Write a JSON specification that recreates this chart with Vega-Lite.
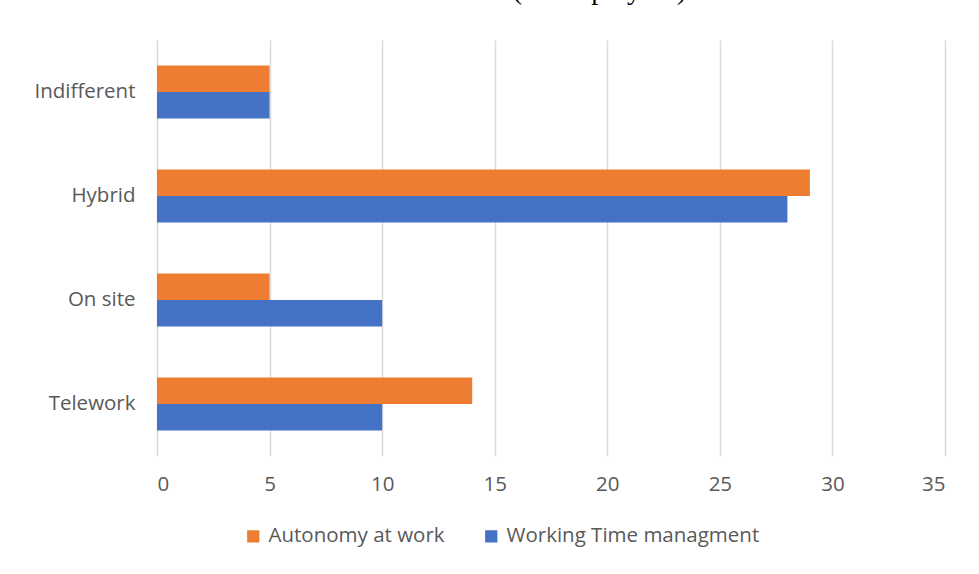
{
  "$schema": "https://vega.github.io/schema/vega-lite/v6.json",
  "width": 788,
  "height": 416,
  "autosize": {"type": "none"},
  "padding": {"left": 157, "top": 40, "right": 34, "bottom": 118},
  "background": "white",
  "title": {
    "text": "(29 employees).",
    "font": "Liberation Serif",
    "fontSize": 28,
    "fontWeight": "normal",
    "color": "#000000",
    "anchor": "middle",
    "dx": 52,
    "offset": 13,
    "baseline": "alphabetic"
  },
  "data": {
    "values": [
      {"response": "Indifferent", "series": "Autonomy at work", "count": 5},
      {"response": "Indifferent", "series": "Working Time managment", "count": 5},
      {"response": "Hybrid", "series": "Autonomy at work", "count": 29},
      {"response": "Hybrid", "series": "Working Time managment", "count": 28},
      {"response": "On site", "series": "Autonomy at work", "count": 5},
      {"response": "On site", "series": "Working Time managment", "count": 10},
      {"response": "Telework", "series": "Autonomy at work", "count": 14},
      {"response": "Telework", "series": "Working Time managment", "count": 10}
    ]
  },
  "mark": {"type": "bar"},
  "encoding": {
    "y": {
      "field": "response",
      "type": "nominal",
      "sort": ["Indifferent", "Hybrid", "On site", "Telework"],
      "scale": {"paddingInner": 0.49, "paddingOuter": 0.245},
      "axis": {
        "title": null,
        "domain": false,
        "ticks": false,
        "labelPadding": 22,
        "labelFont": "Open Sans",
        "labelFontSize": 20.5,
        "labelColor": "#595959"
      }
    },
    "yOffset": {
      "field": "series",
      "type": "nominal",
      "sort": ["Autonomy at work", "Working Time managment"],
      "scale": {"paddingInner": 0, "paddingOuter": 0}
    },
    "x": {
      "field": "count",
      "type": "quantitative",
      "scale": {"domain": [0, 35], "nice": false},
      "axis": {
        "title": null,
        "values": [0, 5, 10, 15, 20, 25, 30, 35],
        "domain": false,
        "ticks": false,
        "grid": true,
        "gridColor": "#d9d9d9",
        "gridWidth": 1.5,
        "labelPadding": 18,
        "labelFont": "Open Sans",
        "labelFontSize": 20.5,
        "labelColor": "#595959"
      }
    },
    "color": {
      "field": "series",
      "type": "nominal",
      "sort": ["Autonomy at work", "Working Time managment"],
      "scale": {"range": ["#ED7D31", "#4472C4"]},
      "legend": {
        "title": null,
        "orient": "none",
        "direction": "horizontal",
        "legendX": 86,
        "legendY": 486,
        "symbolType": "square",
        "symbolSize": 150,
        "symbolStrokeWidth": 0,
        "labelFont": "Open Sans",
        "labelFontSize": 20.5,
        "labelColor": "#595959",
        "labelOffset": 5,
        "labelLimit": 400,
        "columnPadding": 36
      }
    }
  },
  "config": {"view": {"stroke": null}}
}
